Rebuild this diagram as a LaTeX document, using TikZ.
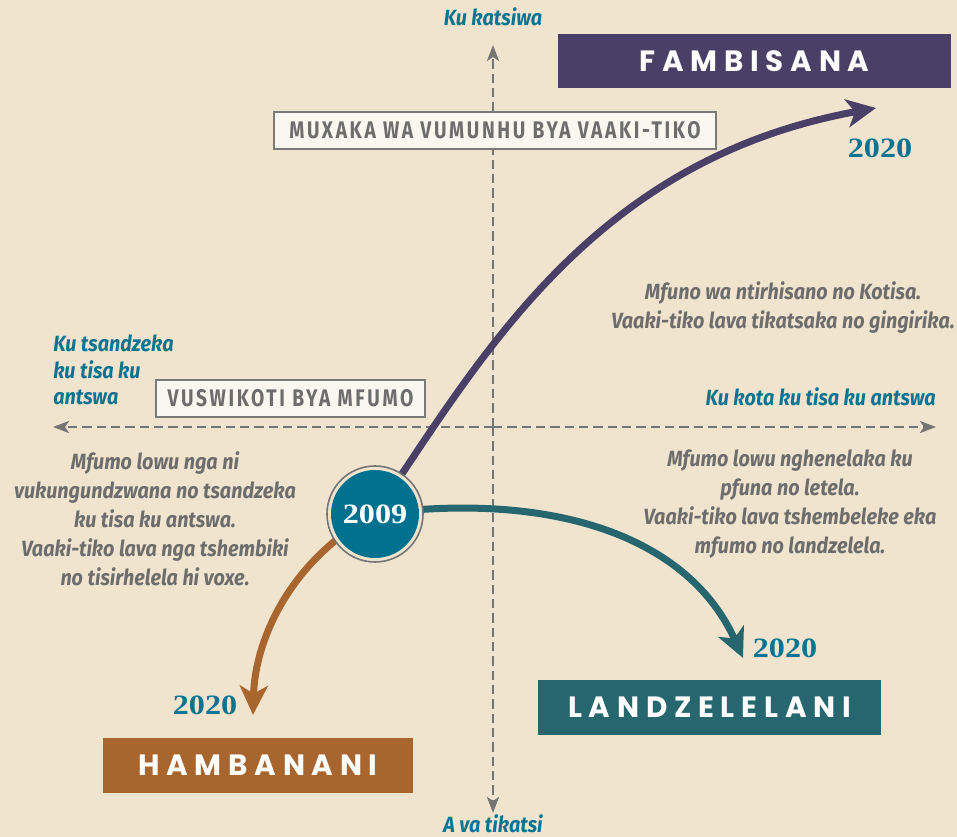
\documentclass[tikz,border=0pt]{standalone}
\usepackage{fontspec}
\usetikzlibrary{arrows.meta}
\newfontfamily\condfont[FakeStretch=0.9]{Fira Sans}
\newfontfamily\boxfont[FakeStretch=0.8,LetterSpace=11]{Fira Sans}
\newfontfamily\capfont[LetterSpace=23]{Poppins}
\newfontfamily\yearfont[FakeStretch=1.15]{Liberation Serif}
\definecolor{bg}{HTML}{F0E4CE}
\definecolor{cpurple}{HTML}{4A3F67}
\definecolor{cteal}{HTML}{26666F}
\definecolor{cbrown}{HTML}{A8652D}
\definecolor{ccircle}{HTML}{00728F}
\definecolor{labteal}{HTML}{0B7492}
\definecolor{txtgray}{HTML}{6D6D6D}
\definecolor{axisgray}{HTML}{757575}
\definecolor{boxfill}{HTML}{FAF7F0}
\definecolor{boxborder}{HTML}{7A7A7A}
\begin{document}
\begin{tikzpicture}[x=0.75pt,y=-0.75pt,
  graytext/.style={text=txtgray,align=center,inner sep=0pt,font=\condfont\bfseries\itshape\fontsize{16.5}{21.75}\selectfont},
  tealtext/.style={text=labteal,inner sep=0pt,font=\condfont\bfseries\itshape\fontsize{16.5}{20}\selectfont},
  labelbox/.style={draw=boxborder,fill=boxfill,line width=1pt,text=txtgray,inner sep=0pt,minimum height=27.75pt,font=\boxfont\bfseries\fontsize{18}{20}\selectfont},
  bigbox/.style={text=white,inner sep=0pt,font=\capfont\bfseries\fontsize{22}{24}\selectfont},
  year/.style={text=labteal,inner sep=0pt,font=\yearfont\bfseries\fontsize{21}{24}\selectfont},
  axis/.style={draw=axisgray,line width=2.2pt,dash pattern=on 7pt off 3.75pt,-{Stealth[length=12pt,width=9pt,inset=3pt]}},
  bigarrow/.style={line width=5.25pt,-{Stealth[length=22pt,width=21pt,inset=6pt]}}
]
\fill[bg] (0,0) rectangle (957,837);
\useasboundingbox (0,0) rectangle (957,837);

% axes
\coordinate (vtop) at (493,45);
\coordinate (vbot) at (493,813);
\coordinate (hleft) at (53,427);
\coordinate (hright) at (936,427);
\coordinate (vmid) at (493,427);
\draw[axis] (vmid) -- (vtop);
\draw[axis] (vmid) -- (vbot);
\draw[axis] (vmid) -- (hleft);
\draw[axis] (vmid) -- (hright);

% axis labels
\node[tealtext] (ktop) at (493,17) {Ku katsiwa};
\node[tealtext] (kbot) at (493,824) {A va tikatsi};
\node[tealtext,align=left,anchor=west] (kleft) at (53,370) {Ku tsandzeka\\ku tisa ku\\antswa};
\node[tealtext,anchor=east] (kright) at (936,397) {Ku kota ku tisa ku antswa};

% label boxes
\node[labelbox,minimum width=331.5pt] (muxaka) at (495,130.5) {MUXAKA WA VUMUNHU BYA VAAKI-TIKO};
\node[labelbox,minimum width=201.75pt] (vuswi) at (290.5,398.5) {VUSWIKOTI BYA MFUMO};

% descriptions
\node[graytext] (dtr) at (783,307.5) {Mfuno wa ntirhisano no Kotisa.\\Vaaki-tiko lava tikatsaka no gingirika.};
\node[graytext] (dbr) at (790,504) {Mfumo lowu nghenelaka ku\\pfuna no letela.\\Vaaki-tiko lava tshembeleke eka\\mfumo no landzelela.};
\node[graytext] (dbl) at (155,519) {Mfumo lowu nga ni\\vukungundzwana no tsandzeka\\ku tisa ku antswa.\\Vaaki-tiko lava nga tshembiki\\no tisirhelela hi voxe.};

% outcome boxes
\node[bigbox,fill=cpurple,minimum width=294.75pt,minimum height=40.5pt] (famb) at (754.5,61) {FAMBISANA};
\node[bigbox,fill=cteal,minimum width=257.25pt,minimum height=41.25pt] (landz) at (709.5,707.5) {LANDZELELANI};
\node[bigbox,fill=cbrown,minimum width=232.5pt,minimum height=41.25pt] (hamb) at (258,765.5) {HAMBANANI};

% years
\node[year] (y1) at (880,148) {2020};
\node[year] (y2) at (785,648) {2020};
\node[year] (y3) at (205,705) {2020};

% circle position
\coordinate (cc) at (375,514);
\coordinate (tipP) at (876,108);
\coordinate (tipT) at (743,658);
\coordinate (tipB) at (253,715);

% arrows
\draw[bigarrow,draw=cpurple] (cc) .. controls (480,360) and (590,160) .. (tipP);
\draw[bigarrow,draw=cteal] (cc) .. controls (560,490) and (690,540) .. (tipT);
\draw[bigarrow,draw=cbrown] (cc) .. controls (290,560) and (255,640) .. (tipB);

% circle
\node[circle,draw=axisgray,line width=1.2pt,fill=bg,minimum size=72pt,inner sep=0pt] (ring) at (cc) {};
\node[circle,fill=ccircle,minimum size=66pt,inner sep=0pt,text=white,font=\yearfont\bfseries\fontsize{21}{24}\selectfont] (c2009) at (cc) {2009};
\end{tikzpicture}
\end{document}
